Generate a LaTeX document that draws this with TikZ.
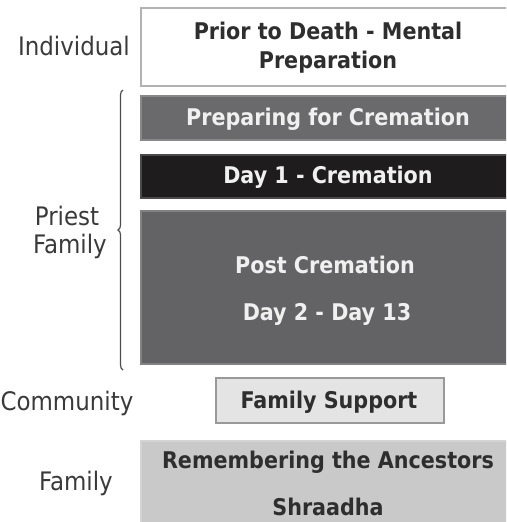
\documentclass[tikz,border=0pt]{standalone}
\usepackage{fontspec}
\setmainfont{DejaVu Sans Condensed}
\usetikzlibrary{decorations.pathreplacing}
\definecolor{boxdark}{HTML}{6A6A6C}
\definecolor{boxblack}{HTML}{1E1C1D}
\definecolor{boxpost}{HTML}{636366}
\definecolor{boxlight}{HTML}{E4E4E4}
\definecolor{boxshr}{HTML}{C9C9C9}
\definecolor{lbl}{HTML}{3A3A3A}
\definecolor{txtdark}{HTML}{2E2E2E}
\tikzset{
  x=1pt, y=-1pt,
  box/.style={draw=#1!80!white, line width=1.5pt, fill=#1, inner sep=0pt, anchor=north west},
  boxtxt/.style={font=\fontsize{23}{26}\selectfont\bfseries, inner sep=0pt, anchor=base},
  lbltxt/.style={font=\fontsize{25.5}{28}\selectfont, text=lbl, inner sep=0pt, anchor=base},
}
\begin{document}
\begin{tikzpicture}
\useasboundingbox (0,0) rectangle (506,522);
\clip (0,0) rectangle (506,522);
% boxes
\node[box=white, draw=gray!60, minimum width=380pt, minimum height=78pt] (b1) at (140,7) {};
\node[box=boxdark, minimum width=380pt, minimum height=44pt] (b2) at (140,95) {};
\node[box=boxblack, minimum width=380pt, minimum height=43pt] (b3) at (140,154) {};
\node[box=boxpost, minimum width=380pt, minimum height=153pt] (b4) at (140,210) {};
\node[box=boxlight, draw=gray!80, minimum width=228pt, minimum height=45pt] (b5) at (215,377) {};
\node[box=boxshr, minimum width=380pt, minimum height=100pt] (b6) at (140,440) {};
% box texts
\node[boxtxt, text=txtdark] (t1a) at (328,39) {Prior to Death - Mental};
\node[boxtxt, text=txtdark] (t1b) at (328,68) {Preparation};
\node[boxtxt, text=white!94!black] (t2) at (328,125) {Preparing for Cremation};
\node[boxtxt, text=white!94!black] (t3) at (328,183) {Day 1 - Cremation};
\node[boxtxt, text=white!94!black] (t4a) at (325,273) {Post Cremation};
\node[boxtxt, text=white!94!black] (t4b) at (327,320) {Day 2 - Day 13};
\node[boxtxt, text=txtdark] (t5) at (329,408) {Family Support};
\node[boxtxt, text=txtdark] (t6a) at (328,468) {Remembering the Ancestors};
\node[boxtxt, text=txtdark] (t6b) at (328,515) {Shraadha};
% labels
\node[lbltxt] (l1) at (74,55) {Individual};
\node[lbltxt] (l2a) at (67,225) {Priest};
\node[lbltxt] (l2b) at (70,253) {Family};
\node[lbltxt] (l3) at (67,410) {Community};
\node[lbltxt] (l4) at (76,490) {Family};
% brace
\coordinate (bt) at (123,90);
\coordinate (bb) at (123,370);
\draw[gray!60!black, line width=1.2pt, decorate, decoration={brace, amplitude=5pt, mirror}] (bt) -- (bb);
\end{tikzpicture}
\end{document}
